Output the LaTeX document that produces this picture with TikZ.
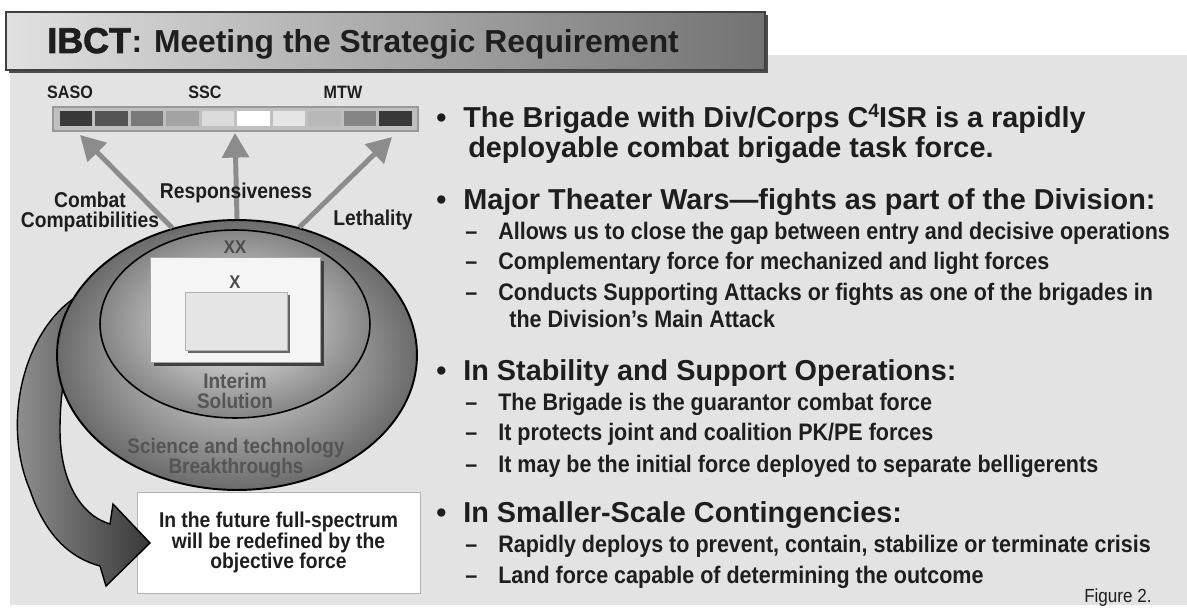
\documentclass[tikz,border=0pt]{standalone}
\usepackage{fontspec}
\setmainfont{Liberation Sans}
\newfontfamily\narrowsf[FakeStretch=0.9]{Liberation Sans}
\newfontfamily\heavysf[BoldFeatures={FakeBold=2.2}]{Liberation Sans}
\usetikzlibrary{shapes.geometric, arrows.meta, positioning, calc}

\definecolor{panel}{HTML}{E3E3E3}
\definecolor{ink}{HTML}{1E1E1E}
\definecolor{arrowgray}{HTML}{8C8C8C}
\definecolor{embossed}{HTML}{555555}

\begin{document}
\begin{tikzpicture}[
    x=0.02cm, y=-0.02cm,
    hdr/.style={anchor=base west, inner sep=0pt, text=ink, font=\fontsize{16.4}{19}\selectfont\bfseries},
    subtxt/.style={anchor=base west, inner sep=0pt, text=ink, font=\narrowsf\fontsize{13.6}{16}\selectfont\bfseries},
    speclabel/.style={inner sep=0pt, text=ink, font=\narrowsf\fontsize{10.2}{12}\selectfont\bfseries},
    armlabel/.style={inner sep=0pt, text=ink, align=center, font=\narrowsf\fontsize{12.2}{11.3}\selectfont\bfseries},
    ringlabel/.style={inner sep=0pt, text=embossed, align=center, font=\narrowsf\fontsize{12}{11.3}\selectfont\bfseries},
    echelon/.style={inner sep=0pt, text=ink!80, font=\narrowsf\fontsize{10.5}{12}\selectfont\bfseries},
    notebox/.style={rectangle, draw=black!30, fill=white, minimum width=5.66cm, minimum height=2.02cm, align=center, text=ink, font=\narrowsf\fontsize{12.2}{11.6}\selectfont\bfseries},
    bigarrow/.style={draw=arrowgray, line width=2.8pt, -{Triangle[length=14pt, width=15pt]}}
]
    \useasboundingbox (0,0) rectangle (1187,611);
    \fill[white] (0,0) rectangle (1187,611);
    \fill[panel] (10,55) rectangle (1187,605);

    % title bar
    \fill[black!70] (9,15) rectangle (768,73);
    \shade[left color=black!12, right color=black!55, draw=black!75, line width=1pt] (6,12) rectangle (765,70);
    \node[anchor=base west, inner sep=0pt, text=ink, font=\heavysf\fontsize{20.4}{24}\selectfont\bfseries] (ibct) at (47,53) {IBCT};
    \node[anchor=base west, inner sep=0pt, text=ink, font=\fontsize{18.1}{22}\selectfont\bfseries] (ttl) at (ibct.base east) {: Meeting the Strategic Requirement};

    % spectrum bar
    \node[rectangle, draw=black!40, fill=black!25, line width=0.8pt, minimum width=7.3cm, minimum height=0.48cm, inner sep=0pt] (spec) at (235.5,119) {};
    \foreach \g [count=\i from 0] in {22,33,47,64,86,100,90,72,52,22} {
        \fill[white!\g!black] ({58+35.5*\i+1.5},111.5) rectangle ({58+35.5*(\i+1)-1.5},126.5);
    }
    \node[speclabel] (saso) at (70,92) {SASO};
    \node[speclabel] (ssc) at (205,92) {SSC};
    \node[speclabel] (mtw) at (343,92) {MTW};

    % white note box and the sweeping arrow
    \node[notebox] (future) at (278.5,542.5) {In the future full-spectrum\\will be redefined by the\\objective force};
    \shade[left color=black!40, right color=black!78, draw=black, line width=0.8pt]
        (88,290) .. controls (25,320) and (0,420) .. (30,490)
        .. controls (45,535) and (70,558) .. (100,566)
        -- (106,586) -- (150,543) -- (113,504) -- (110,524)
        .. controls (80,515) and (60,480) .. (60,430)
        .. controls (60,380) and (70,330) .. (100,300) -- cycle;

    % rings
    \node[ellipse, draw=black, line width=1.1pt, inner color=black!10, outer color=black!58, minimum width=7.2cm, minimum height=5.4cm, inner sep=0pt] (st) at (237,355) {};
    \node[ellipse, draw=black, line width=0.9pt, inner color=black!5, outer color=black!48, minimum width=5.4cm, minimum height=3.76cm, inner sep=0pt] (interim) at (235,324) {};

    % echelon boxes
    \fill[black!75] (154,261) rectangle (324,366);
    \node[rectangle, draw=black!35, fill=black!4, minimum width=3.4cm, minimum height=2.1cm, inner sep=0pt] (div) at (235,309.5) {};
    \fill[black!60] (188,295) rectangle (290,353);
    \node[rectangle, draw=black!30, fill=black!10, minimum width=2.04cm, minimum height=1.16cm, inner sep=0pt] (bde) at (236,321) {};
    \node[echelon] (xx) at (235,247) {XX};
    \node[echelon] (x) at (235,282) {X};

    \node[ringlabel] (interimtxt) at (235,391) {Interim\\Solution};
    \node[ringlabel] (sttxt) at (236,458) {Science and technology\\Breakthroughs};

    % arrows up to the spectrum
    \coordinate (tipL) at (80,135);
    \coordinate (tipM) at (235,133);
    \coordinate (tipR) at (392,137);
    \draw[bigarrow] (st.117) -- (tipL);
    \draw[bigarrow] (st.north) -- (tipM);
    \draw[bigarrow] (st.64) -- (tipR);

    \node[armlabel] (combat) at (90,212) {Combat\\Compatibilities};
    \node[armlabel] (resp) at (236,193) {Responsiveness};
    \node[armlabel] (leth) at (373,220) {Lethality};

    % bullet text
    \node[hdr] (d1) at (436,128) {•};
    \node[hdr] (b1) at (463,128) {The Brigade with Div/Corps C\raisebox{0.35em}{\fontsize{11}{11}\selectfont 4}ISR is a rapidly};
    \node[hdr] (b1b) at (468,158) {deployable combat brigade task force.};

    \node[hdr] (d2) at (436,210) {•};
    \node[hdr] (b2) at (463,210) {Major Theater Wars—fights as part of the Division:};
    \node[subtxt] (s21d) at (465,240) {–};
    \node[subtxt] (s21) at (498,240) {Allows us to close the gap between entry and decisive operations};
    \node[subtxt] (s22d) at (465,270) {–};
    \node[subtxt] (s22) at (498,270) {Complementary force for mechanized and light forces};
    \node[subtxt] (s23d) at (465,300) {–};
    \node[subtxt] (s23) at (498,300) {Conducts Supporting Attacks or fights as one of the brigades in};
    \node[subtxt] (s23b) at (509,328) {the Division’s Main Attack};

    \node[hdr] (d3) at (436,380) {•};
    \node[hdr] (b3) at (463,380) {In Stability and Support Operations:};
    \node[subtxt] (s31d) at (465,410) {–};
    \node[subtxt] (s31) at (498,410) {The Brigade is the guarantor combat force};
    \node[subtxt] (s32d) at (465,440) {–};
    \node[subtxt] (s32) at (498,440) {It protects joint and coalition PK/PE forces};
    \node[subtxt] (s33d) at (465,472) {–};
    \node[subtxt] (s33) at (498,472) {It may be the initial force deployed to separate belligerents};

    \node[hdr] (d4) at (436,522) {•};
    \node[hdr] (b4) at (463,522) {In Smaller-Scale Contingencies:};
    \node[subtxt] (s41d) at (465,552) {–};
    \node[subtxt] (s41) at (498,552) {Rapidly deploys to prevent, contain, stabilize or terminate crisis};
    \node[subtxt] (s42d) at (465,583) {–};
    \node[subtxt] (s42) at (498,583) {Land force capable of determining the outcome};

    \node[anchor=base east, inner sep=0pt, text=ink, font=\narrowsf\fontsize{10.8}{13}\selectfont] (fig) at (1152,602) {Figure 2.};
\end{tikzpicture}
\end{document}
